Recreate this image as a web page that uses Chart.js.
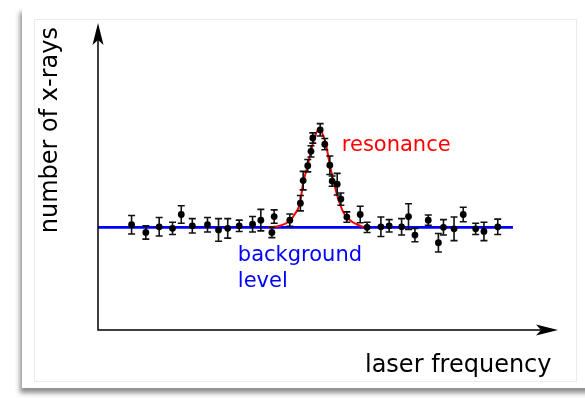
<!DOCTYPE html>
<html>
<head>
<meta charset="utf-8">
<script src="https://cdn.jsdelivr.net/npm/chart.js@4/dist/chart.umd.min.js"></script>
<style>
  html, body { margin: 0; padding: 0; background: #ffffff; }
  body { width: 585px; height: 398px; position: relative; overflow: hidden; }
  .card {
    position: absolute; left: 22px; top: 7px; width: 600px; height: 381px;
    background: #ffffff;
    box-shadow: -2px 5px 5px rgba(0,0,0,0.45);
  }
  .inner {
    position: absolute; left: 34px; top: 19px; width: 543px; height: 363px;
    border: 1px solid #ebebeb; box-sizing: border-box;
  }
  canvas { position: absolute; left: 0; top: 0; }
</style>
</head>
<body>
<div class="card"></div>
<div class="inner"></div>
<canvas id="c" width="585" height="398"></canvas>
<script>
// Measured x-ray counts versus laser frequency (arbitrary units)
const frequency = [7.3, 10.4, 13.3, 16.2, 18.1, 20.5, 23.8, 26.2, 28.2, 30.7,
                   33.6, 35.4, 37.8, 38.3, 41.7, 44.0, 44.6, 45.6, 46.3, 46.7,
                   48.3, 49.3, 50.4, 50.9, 52.0, 52.8, 54.1, 57.0, 58.5, 61.5,
                   63.3, 66.0, 67.5, 68.9, 71.8, 74.0, 75.1, 77.4, 79.4, 82.1,
                   83.9, 86.9];
const counts    = [20.5, 19.0, 20.1, 19.8, 22.5, 20.3, 20.5, 19.5, 19.8, 20.3,
                   20.6, 21.4, 19.0, 22.1, 21.4, 24.7, 29.1, 32.0, 34.8, 37.4,
                   39.0, 36.2, 32.1, 29.0, 28.4, 25.5, 22.0, 22.5, 20.0, 20.1,
                   20.3, 20.1, 22.1, 18.5, 21.4, 17.0, 20.0, 19.7, 22.5, 19.7,
                   19.2, 20.1];
const countErr  = [1.8, 1.3, 1.8, 1.2, 1.7, 1.4, 1.4, 2.2, 1.9, 1.1,
                   1.5, 2.1, 1.0, 1.3, 1.2, 1.5, 1.8, 1.2, 1.1, 1.0,
                   1.2, 1.1, 1.8, 1.0, 2.1, 1.2, 1.0, 1.6, 1.0, 1.9,
                   1.2, 1.6, 2.5, 1.3, 1.0, 1.8, 1.5, 2.3, 1.4, 1.1,
                   1.8, 1.5];

// Fitted resonance profile
const fitFrequency = [37.0, 39.6, 41.7, 42.8, 43.9, 44.6, 45.6, 46.5, 47.2, 48.0,
                      49.0, 49.7, 50.4, 51.2, 52.1, 53.3, 54.8, 56.2, 58.0];
const fitCounts    = [20.0, 20.3, 21.3, 22.6, 24.7, 28.6, 32.1, 35.6, 37.8, 39.1,
                      37.8, 35.5, 32.1, 29.0, 25.9, 23.0, 21.4, 20.6, 20.0];

// Flat background level
const backgroundLevel = 20;
const backgroundSpan = [0, 90.2];

const measured = frequency.map((f, i) => ({ x: f, y: counts[i] }));
const fitLine = fitFrequency.map((f, i) => ({ x: f, y: fitCounts[i] }));
const bgLine = backgroundSpan.map(f => ({ x: f, y: backgroundLevel }));

const FONT = "'DejaVu Sans', 'Liberation Sans', sans-serif";

function arrowHead(ctx, tx, ty, dx, dy) {
  const L = 22, W = 5.5, N = 5;
  const px = -dy, py = dx;
  ctx.beginPath();
  ctx.moveTo(tx, ty);
  ctx.lineTo(tx - dx * L + px * W, ty - dy * L + py * W);
  ctx.lineTo(tx - dx * (L - N), ty - dy * (L - N));
  ctx.lineTo(tx - dx * L - px * W, ty - dy * L - py * W);
  ctx.closePath();
  ctx.fill();
}

// Error bars, drawn just before the measured points so the dots sit on top
const errorBars = {
  id: 'errorBars',
  beforeDatasetDraw(chart, args) {
    if (args.index !== 0) return;
    const { ctx, scales: { x, y } } = chart;
    ctx.save();
    ctx.strokeStyle = '#111';
    ctx.lineWidth = 1.6;
    const cap = 3.5;
    measured.forEach((p, i) => {
      const px = x.getPixelForValue(p.x);
      const y1 = y.getPixelForValue(p.y - countErr[i]);
      const y2 = y.getPixelForValue(p.y + countErr[i]);
      ctx.beginPath();
      ctx.moveTo(px, y1); ctx.lineTo(px, y2);
      ctx.moveTo(px - cap, y1); ctx.lineTo(px + cap, y1);
      ctx.moveTo(px - cap, y2); ctx.lineTo(px + cap, y2);
      ctx.stroke();
    });
    ctx.restore();
  }
};

// Arrowed axes, axis titles and annotation labels
const decorations = {
  id: 'decorations',
  afterDatasetsDraw(chart) {
    const { ctx, chartArea: a, scales: { x, y } } = chart;
    ctx.save();

    ctx.lineWidth = 1.5;
    ctx.strokeStyle = '#000';
    ctx.fillStyle = '#000';
    ctx.beginPath();
    ctx.moveTo(a.left, a.top + 10);
    ctx.lineTo(a.left, a.bottom);
    ctx.lineTo(a.right - 10, a.bottom);
    ctx.stroke();
    arrowHead(ctx, a.left, a.top, 0, -1);
    arrowHead(ctx, a.right, a.bottom, 1, 0);

    ctx.font = '24px ' + FONT;
    ctx.textBaseline = 'alphabetic';
    ctx.textAlign = 'right';
    ctx.fillText('laser frequency', 551.5, 371.5);
    ctx.save();
    ctx.translate(57, (a.top + y.getPixelForValue(backgroundLevel)) / 2 + 5);
    ctx.rotate(-Math.PI / 2);
    ctx.textAlign = 'center';
    ctx.fillText('number of x-rays', 0, 0);
    ctx.restore();

    ctx.textAlign = 'left';
    ctx.font = '21px ' + FONT;
    ctx.fillStyle = '#ff0000';
    ctx.fillText('resonance', x.getPixelForValue(53.0), y.getPixelForValue(34.9));
    ctx.fillStyle = '#0000ff';
    const bx = x.getPixelForValue(30.4), by = y.getPixelForValue(13.4);
    ctx.fillText('background', bx, by);
    ctx.fillText('level', bx, by + 26);

    ctx.restore();
  }
};

new Chart(document.getElementById('c'), {
  type: 'scatter',
  data: {
    datasets: [
      {
        label: 'measured',
        data: measured,
        backgroundColor: '#000',
        borderColor: '#000',
        borderWidth: 0,
        pointRadius: 3.4,
        pointHoverRadius: 3.4,
        order: 0
      },
      {
        label: 'fit',
        data: fitLine,
        showLine: true,
        borderColor: '#ff0000',
        borderWidth: 2,
        pointRadius: 0,
        cubicInterpolationMode: 'monotone',
        order: 1
      },
      {
        label: 'background',
        data: bgLine,
        showLine: true,
        borderColor: '#0000ff',
        borderWidth: 2.8,
        pointRadius: 0,
        order: 2
      }
    ]
  },
  options: {
    responsive: false,
    animation: false,
    devicePixelRatio: 1,
    layout: { padding: { left: 98, top: 23, right: 27, bottom: 68 } },
    plugins: { legend: { display: false }, tooltip: { enabled: false } },
    scales: {
      x: { type: 'linear', min: 0, max: 100, display: false },
      y: { type: 'linear', min: 0, max: 59.8, display: false }
    }
  },
  plugins: [errorBars, decorations]
});
</script>
</body>
</html>
